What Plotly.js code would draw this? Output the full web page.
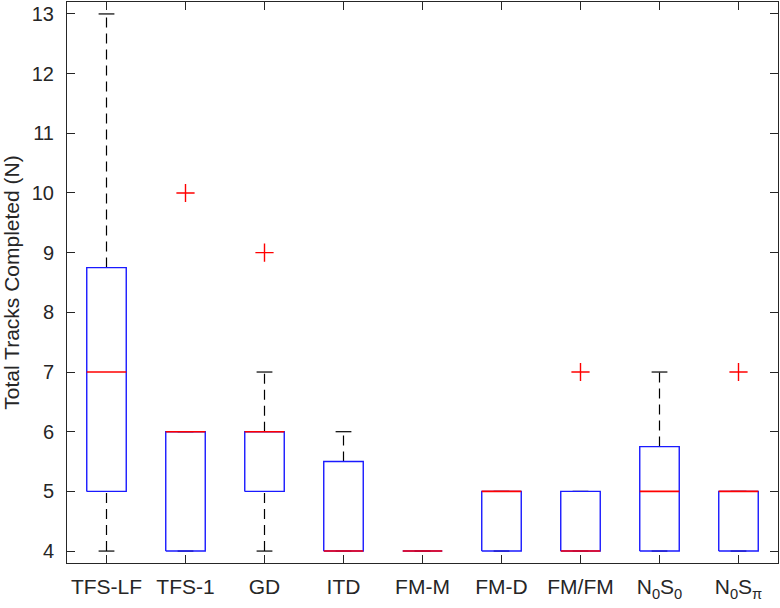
<!DOCTYPE html>
<html>
<head>
<meta charset="utf-8">
<script src="https://cdn.plot.ly/plotly-3.0.1.min.js"></script>
<style>
  html, body { margin: 0; padding: 0; background: #fff; }
  #chart { width: 780px; height: 608px; }
</style>
</head>
<body>
<div id="chart"></div>
<script>
// group labels (MATLAB-style boxplot)
var groups = ['TFS-LF', 'TFS-1', 'GD', 'ITD', 'FM-M', 'FM-D', 'FM/FM', 'N<sub>0</sub>S<sub>0</sub>', 'N<sub>0</sub>S<sub>π</sub>'];

// box statistics per group
var lowWhisker = [4, 4, 4, 4, 4, 4, 4, 4, 4];
var q1         = [5, 4, 5, 4, 4, 4, 4, 4, 4];
var median     = [7, 6, 6, 4, 4, 5, 4, 5, 5];
var q3         = [8.75, 6, 6, 5.5, 4, 5, 5, 5.75, 5];
var highWhisker = [13, 6, 7, 6, 4, 5, 5, 7, 5];

// outliers: group index (1-based) and value
var outlierGroup = [2, 3, 7, 9];
var outlierValue = [10, 9, 7, 7];

var boxHalf = 0.25;
var capHalf = 0.1;

var wx = [], wy = [], cx = [], cy = [], bx = [], by = [], mx = [], my = [];
for (var i = 0; i < groups.length; i++) {
  var p = i + 1;
  // dashed whiskers
  wx.push(p, p, null, p, p, null);
  wy.push(q3[i], highWhisker[i], null, lowWhisker[i], q1[i], null);
  // caps
  cx.push(p - capHalf, p + capHalf, null, p - capHalf, p + capHalf, null);
  cy.push(highWhisker[i], highWhisker[i], null, lowWhisker[i], lowWhisker[i], null);
  // box outline
  bx.push(p - boxHalf, p + boxHalf, p + boxHalf, p - boxHalf, p - boxHalf, null);
  by.push(q1[i], q1[i], q3[i], q3[i], q1[i], null);
  // median
  mx.push(p - boxHalf, p + boxHalf, null);
  my.push(median[i], median[i], null);
}

var font = 'Liberation Sans, Arial, Helvetica, sans-serif';

var data = [
  {x: wx, y: wy, mode: 'lines', line: {color: '#000', width: 1.2, dash: '10px,6px'}, hoverinfo: 'skip'},
  {x: cx, y: cy, mode: 'lines', line: {color: '#000', width: 1.2}, hoverinfo: 'skip'},
  {x: bx, y: by, mode: 'lines', line: {color: '#1a1aff', width: 1.4}, hoverinfo: 'skip'},
  {x: mx, y: my, mode: 'lines', line: {color: '#ff0000', width: 1.6}, hoverinfo: 'skip'},
  {x: outlierGroup, y: outlierValue, mode: 'markers',
   marker: {symbol: 'cross-thin-open', size: 13, color: '#ff0000', line: {color: '#ff0000', width: 1.4}}}
];

var axisCommon = {
  showline: true, linecolor: '#262626', linewidth: 1,
  mirror: 'ticks', ticks: 'inside', ticklen: 8, tickcolor: '#262626',
  showgrid: false, zeroline: false
};

var layout = {
  width: 780, height: 608,
  margin: {l: 67, r: 2, t: 2, b: 45},
  showlegend: false,
  paper_bgcolor: '#fff', plot_bgcolor: '#fff',
  xaxis: Object.assign({}, axisCommon, {
    range: [0.5, 9.5],
    tickvals: [1, 2, 3, 4, 5, 6, 7, 8, 9],
    ticktext: groups,
    ticklabelstandoff: 5,
    tickfont: {family: font, size: 21, color: '#262626'}
  }),
  yaxis: Object.assign({}, axisCommon, {
    range: [3.8, 13.2],
    dtick: 1, tick0: 0,
    ticklabelstandoff: 8,
    tickfont: {family: font, size: 20, color: '#262626'},
    title: {text: 'Total Tracks Completed (N)', standoff: 12,
            font: {family: font, size: 21, color: '#262626'}}
  })
};

Plotly.newPlot('chart', data, layout, {displayModeBar: false, staticPlot: true});
</script>
</body>
</html>
